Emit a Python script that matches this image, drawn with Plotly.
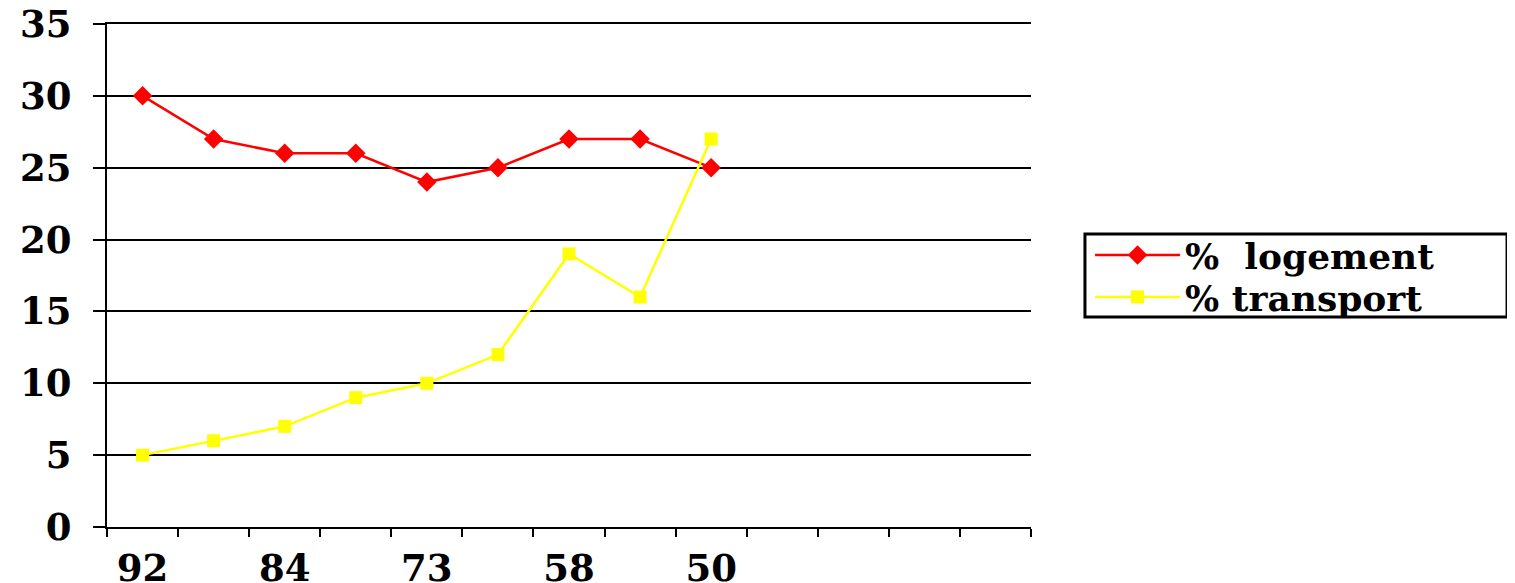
import plotly.graph_objects as go

# Category labels (only every other period is labelled on the axis)
categories = ["92", "", "84", "", "73", "", "58", "", "50"]
n_slots = 13  # the axis reserves 13 category slots
logement = [30, 27, 26, 26, 24, 25, 27, 27, 25]
transport = [5, 6, 7, 9, 10, 12, 19, 16, 27]
y_ticks = [0, 5, 10, 15, 20, 25, 30, 35]

x_idx = list(range(len(categories)))
label_vals = [i for i, c in enumerate(categories) if c]
label_text = [c for c in categories if c]

FONT = "DejaVu Serif"
leg_font = dict(family=FONT, size=36, color="black", weight="bold")

fig = go.Figure()
fig.add_trace(go.Scatter(
    x=x_idx, y=logement, mode="lines+markers", name="%  logement",
    line=dict(color="#FF0000", width=2.5),
    marker=dict(symbol="diamond", size=15, color="#FF0000"),
    legend="legend",
))
fig.add_trace(go.Scatter(
    x=x_idx, y=transport, mode="lines+markers", name="% transport",
    line=dict(color="#FFFF00", width=2.5),
    marker=dict(symbol="square", size=13, color="#FFFF00"),
    legend="legend2",
))

legend_common = dict(
    xanchor="left", yanchor="middle", borderwidth=0,
    bgcolor="rgba(0,0,0,0)", font=leg_font, itemwidth=85,
)

fig.update_layout(
    width=1507, height=575,
    margin=dict(l=99, r=484, t=16, b=56, autoexpand=False),
    paper_bgcolor="white", plot_bgcolor="white",
    showlegend=True,
    legend=dict(x=1.0639, y=0.5408, **legend_common),
    legend2=dict(x=1.0639, y=0.4573, **legend_common),
    shapes=[dict(
        type="rect", xref="paper", yref="paper",
        x0=1.0584, x1=1.5152, y0=0.4175, y1=0.5825,
        line=dict(color="black", width=3), fillcolor="rgba(0,0,0,0)",
    )],
)
fig.update_xaxes(
    range=[-0.5, n_slots - 0.5],
    tickmode="array", tickvals=label_vals, ticktext=label_text,
    ticks="", ticklen=0, showgrid=False, zeroline=False,
    showline=True, linecolor="black", linewidth=2, mirror=True,
    tickfont=dict(family=FONT, size=37, color="black", weight="bold"),
    ticklabelstandoff=8, ticklabeloverflow="allow",
    minor=dict(tick0=-0.5, dtick=1, ticks="outside", ticklen=8,
               tickcolor="black", tickwidth=2, showgrid=False),
    automargin=False,
)
fig.update_yaxes(
    range=[0, 35], tickmode="array", tickvals=y_ticks,
    ticks="outside", ticklen=12, tickcolor="black", tickwidth=2,
    showgrid=True, gridcolor="black", gridwidth=2,
    zeroline=False, showline=True, linecolor="black", linewidth=2,
    tickfont=dict(family=FONT, size=37, color="black", weight="bold"),
    ticklabelstandoff=14, ticklabeloverflow="allow",
    automargin=False,
)

fig.write_html("out.html")
